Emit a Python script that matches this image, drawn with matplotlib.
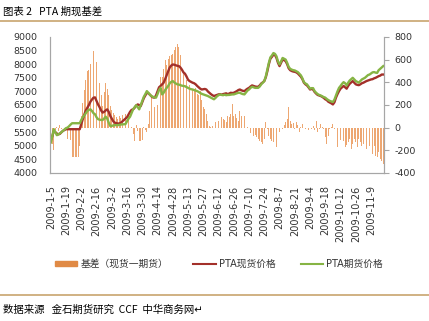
import numpy as np
import matplotlib
matplotlib.use("Agg")
import matplotlib.pyplot as plt
from matplotlib.lines import Line2D
from matplotlib.patches import Patch

plt.rcParams['font.family'] = ['DejaVu Sans', 'Noto Sans CJK SC']
plt.rcParams['axes.unicode_minus'] = False

# PTA spot price (left axis)
spot = [
    5200, 5350, 5550, 5500, 5450, 5420, 5440, 5500, 5550, 5580,
    5610, 5610, 5610, 5610, 5610, 5610, 5610, 5610, 5610, 5610,
    5800, 5980, 6150, 6300, 6400, 6500, 6620, 6700, 6770, 6780,
    6650, 6520, 6420, 6300, 6220, 6250, 6300, 6340, 6250, 6100,
    6000, 5900, 5850, 5830, 5820, 5820, 5850, 5900, 5950, 6000,
    6050, 6150, 6250, 6320, 6340, 6400, 6480, 6520, 6500, 6460,
    6600, 6750, 6850, 6950, 6930, 6880, 6820, 6780, 6770, 6850,
    7000, 7150, 7200, 7260, 7320, 7450, 7600, 7740, 7880, 7950,
    7990, 7980, 7960, 7940, 7930, 7880, 7800, 7700, 7650, 7550,
    7430, 7380, 7350, 7320, 7300, 7260, 7200, 7150, 7100, 7070,
    7080, 7090, 7070, 7000, 6950, 6900, 6860, 6830, 6850, 6870,
    6890, 6900, 6880, 6900, 6915, 6930, 6900, 6920, 6950, 6940,
    6950, 6980, 7010, 7050, 7070, 7040, 7020, 7010, 7060, 7100,
    7130, 7180, 7220, 7200, 7180, 7170, 7170, 7220, 7290, 7330,
    7380, 7520, 7740, 8000, 8200, 8270, 8350, 8340, 8230, 8050,
    7930, 8050, 8170, 8150, 8110, 8000, 7850, 7780, 7750, 7730,
    7720, 7700, 7660, 7600, 7540, 7450, 7320, 7260, 7220, 7150,
    7070, 7090, 7070, 6980, 6920, 6870, 6850, 6830, 6800, 6760,
    6710, 6680, 6620, 6590, 6560, 6520, 6600, 6770, 6900, 7010,
    7100, 7150, 7200, 7150, 7100, 7200, 7280, 7330, 7380, 7320,
    7260, 7240, 7230, 7260, 7300, 7320, 7350, 7380, 7400, 7420,
    7440, 7450, 7480, 7500, 7530, 7560, 7580, 7620, 7620,
]

# PTA futures price (left axis)
futures = [
    5120, 5350, 5610, 5500, 5390, 5420, 5460, 5500, 5550, 5600,
    5650, 5670, 5720, 5780, 5830, 5830, 5830, 5830, 5830, 5830,
    5950, 6050, 6120, 6200, 6280, 6320, 6340, 6280, 6200, 6160,
    6050, 5980, 5960, 5950, 5950, 6000, 6070, 6000, 5850, 5730,
    5730, 5750, 5760, 5760, 5760, 5770, 5780, 5790, 5790, 5800,
    5900, 6000, 6070, 6200, 6340, 6420, 6490, 6420, 6340, 6500,
    6650, 6800, 6900, 7010, 6950, 6880, 6830, 6800, 6780, 6770,
    6900, 7050, 7130, 6890, 6950, 7050, 7130, 7200, 7300, 7350,
    7380, 7330, 7290, 7260, 7250, 7230, 7210, 7200, 7190, 7160,
    7130, 7100, 7080, 7070, 7050, 7030, 7010, 6980, 6940, 6910,
    6890, 6870, 6850, 6830, 6800, 6770, 6740, 6710, 6760, 6820,
    6860, 6890, 6870, 6860, 6880, 6860, 6870, 6870, 6880, 6890,
    6890, 6910, 6930, 6950, 6950, 6920, 6900, 6890, 6960, 7030,
    7070, 7130, 7170, 7150, 7130, 7130, 7130, 7180, 7260, 7320,
    7380, 7550, 7800, 8050, 8250, 8320, 8410, 8380, 8290, 8100,
    7990, 8100, 8230, 8200, 8170, 8050, 7900, 7830, 7800, 7780,
    7770, 7740, 7710, 7650, 7590, 7480, 7340, 7290, 7260, 7180,
    7100, 7120, 7120, 7010, 6950, 6900, 6870, 6850, 6820, 6790,
    6770, 6720, 6680, 6650, 6630, 6610, 6700, 6850, 7000, 7130,
    7200, 7280, 7340, 7300, 7220, 7320, 7400, 7450, 7500, 7440,
    7380, 7350, 7320, 7380, 7440, 7470, 7500, 7550, 7600, 7620,
    7660, 7700, 7710, 7690, 7680, 7780, 7830, 7880, 7930,
]

# basis = spot - futures (right axis)
basis = [
    30, -145, -200, -20, 10, -30, 20, -10, -40, -20,
    -80, -100, -130, -110, -255, -255, -255, -255, -255, -160,
    100, 220, 330, 420, 500, 505, 560, 600, 673, 650,
    580, 490, 390, 285, 195, 315, 390, 345, 285, 195,
    160, 130, 110, 90, 80, 100, 85, 110, 95, 120,
    130, 100, 60, 10, -60, -115, 20, -30, -115, -115,
    -110, 10, -20, -40, 30, 150, 280, 240, 180, 200,
    200, 260, 446, 450, 520, 594, 550, 608, 630, 640,
    652, 682, 712, 741, 712, 638, 579, 490, 475, 417,
    430, 373, 385, 340, 328, 350, 299, 285, 325, 240,
    181, 166, 122, 60, 19, 10, 19, 40, 48, 78,
    63, 70, 92, 78, 70, 48, 107, 92, 122, 210,
    107, 122, 85, 63, 151, 107, 78, 107, 33, 4,
    -20, -45, -55, -70, -65, -84, -99, -114, -129, -143,
    -99, 48, -11, -70, -99, -114, -130, -158, -173, -99,
    -40, -25, -11, 20, 48, 78, 181, 63, 33, 40,
    -11, 48, 20, -40, 4, 33, 15, -11, 4, -25,
    10, -11, 19, -25, 63, -40, -11, 33, 10, -11,
    -84, -143, -70, -11, 10, 33, -11, -99, -173, -143,
    -110, -158, -114, -173, -150, -129, -99, -188, -143, -99,
    -129, -173, -99, -129, -158, -143, -99, -188, -170, -158,
    -217, -232, -158, -247, -261, -217, -276, -290, -320,
]

date_labels = [
    "2009-1-5", "2009-1-19", "2009-2-2", "2009-2-16", "2009-3-2",
    "2009-3-16", "2009-3-30", "2009-4-14", "2009-4-28", "2009-5-13",
    "2009-5-27", "2009-6-12", "2009-6-26", "2009-7-10", "2009-7-24",
    "2009-8-7", "2009-8-21", "2009-9-4", "2009-9-18", "2009-10-12",
    "2009-10-26", "2009-11-9",
]

legend_labels = ["基差（现货一期货）", "PTA现货价格", "PTA期货价格"]

bar_color = '#EDA772'
red = '#A3302A'
green = '#86B444'
rule_color = '#C8A46E'
spine_color = '#A6A6A6'

x = np.arange(len(spot))

fig = plt.figure(figsize=(4.29, 3.21), dpi=100)
ax = fig.add_axes([50 / 429, 1 - 173 / 321, 334 / 429, 136 / 321])
ax2 = ax.twinx()

ax2.bar(x, basis, width=0.55, color=bar_color, linewidth=0)
ax.plot(x, spot, color=red, lw=1.7)
ax.plot(x, futures, color=green, lw=1.7)

# lines above the bars
ax.set_zorder(ax2.get_zorder() + 1)
ax.patch.set_visible(False)

ax.set_xlim(-0.5, len(spot) - 0.5)
ax.set_ylim(4000, 9000)
ax.set_yticks(np.arange(4000, 9001, 500))
ax2.set_ylim(-400, 800)
ax2.set_yticks(np.arange(-400, 801, 200))

ax.set_xticks(x[::10])
ax.set_xticklabels(date_labels, rotation=90, fontsize=7, color='#333333')
ax.tick_params(axis='x', length=0, pad=9)
ax.tick_params(axis='y', length=0, pad=9, labelsize=6.8, colors='#333333')
ax2.tick_params(axis='y', length=3.5, pad=4, labelsize=6.8, colors='#333333',
                color=spine_color, width=0.8)

for a in (ax, ax2):
    a.spines['top'].set_visible(False)
    for s in ('left', 'right', 'bottom'):
        a.spines[s].set_color(spine_color)
        a.spines[s].set_linewidth(0.8)

handles = [Patch(color='#E08A45'),
           Line2D([], [], color=red, lw=1.5),
           Line2D([], [], color=green, lw=1.5)]
fig.legend(handles, legend_labels, loc='center', bbox_to_anchor=(0.51, 1 - 264 / 321),
           ncol=3, frameon=False, fontsize=7, handlelength=2.3, handleheight=0.5,
           columnspacing=2.6, handletextpad=0.3, labelcolor='#333333')

fig.text(3 / 429, 1 - 12 / 321, "图表 2   PTA 期现基差", fontsize=7.5,
         va='center', ha='left', family=['Noto Sans CJK SC', 'DejaVu Sans'])
fig.text(3 / 429, 1 - 310 / 321, "数据来源   金石期货研究  CCF  中华商务网↵", fontsize=7.5,
         va='center', ha='left', family=['Noto Sans CJK SC', 'DejaVu Sans'])

fig.add_artist(Line2D([0, 1], [1 - 21 / 321] * 2, color=rule_color, lw=1.2,
                      transform=fig.transFigure))
fig.add_artist(Line2D([0, 1], [1 - 295 / 321] * 2, color=rule_color, lw=1.2,
                      transform=fig.transFigure))

fig.savefig("out.png", dpi=100)
